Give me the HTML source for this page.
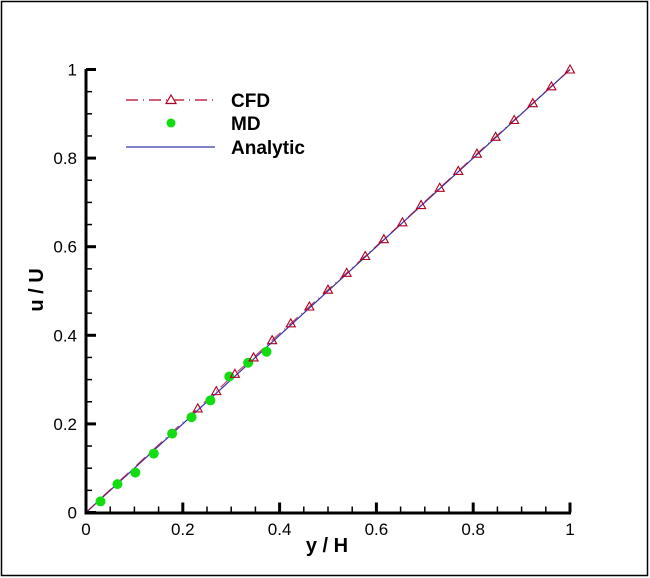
<!DOCTYPE html>
<html><head><meta charset="utf-8">
<style>
html,body{margin:0;padding:0;background:#fff;}
svg{display:block;font-family:"Liberation Sans",Arial,sans-serif;}
</style></head>
<body>
<svg id="chart" width="650" height="578" viewBox="0 0 650 578">
<rect x="1.5" y="1.5" width="646" height="574" fill="#fff" stroke="#000" stroke-width="1.5"/>
<g id="ticks"></g>
<g id="series"></g>
<line x1="86" y1="69" x2="86" y2="513.5" stroke="#000" stroke-width="3"/>
<line x1="84.5" y1="513" x2="571" y2="513" stroke="#000" stroke-width="3"/>
<text x="327" y="552" font-size="20" font-weight="bold" text-anchor="middle">y / H</text>
<text x="0" y="0" font-size="20" font-weight="bold" text-anchor="middle" transform="translate(43,290) rotate(-90)">u / U</text>
<g>
  <g>
    <line x1="126" y1="100" x2="213" y2="100" stroke="#b00020" stroke-width="1.2" stroke-dasharray="12,5,1,5"/>
    <polygon points="171,95 166,103.5 176,103.5" fill="#fff" stroke="#b00020" stroke-width="1.2"/>
    <text x="231" y="107" font-size="19" font-weight="bold">CFD</text>
  </g>
  <g>
    <circle cx="171" cy="123" r="4.5" fill="#11dd11"/>
    <text x="231" y="130" font-size="19" font-weight="bold">MD</text>
  </g>
  <g>
    <line x1="126" y1="147" x2="215" y2="147" stroke="#3333aa" stroke-width="1.2"/>
    <text x="231" y="154" font-size="19" font-weight="bold">Analytic</text>
  </g>
</g>
</svg>
<script>
const xTicks = [0, 0.2, 0.4, 0.6, 0.8, 1];
const yTicks = [0, 0.2, 0.4, 0.6, 0.8, 1];
const xTickLabels = ["0", "0.2", "0.4", "0.6", "0.8", "1"];
const yTickLabels = ["0", "0.2", "0.4", "0.6", "0.8", "1"];
const analyticX = [0, 1];
const analyticY = [0, 1];
const cfdX = [0, 0.0385, 0.0769, 0.1154, 0.1538, 0.1923, 0.2308, 0.2692, 0.3077, 0.3462, 0.3846, 0.4231, 0.4615, 0.5, 0.5385, 0.5769, 0.6154, 0.6538, 0.6923, 0.7308, 0.7692, 0.8077, 0.8462, 0.8846, 0.9231, 0.9615, 1];
const cfdY = [0, 0.04, 0.079, 0.118, 0.157, 0.196, 0.235, 0.274, 0.313, 0.35, 0.389, 0.427, 0.465, 0.503, 0.541, 0.579, 0.617, 0.655, 0.694, 0.733, 0.771, 0.81, 0.848, 0.886, 0.924, 0.962, 1];
const cfdMarkerStart = 6;
const mdX = [0.03, 0.065, 0.102, 0.14, 0.178, 0.218, 0.257, 0.296, 0.335, 0.373];
const mdY = [0.025, 0.064, 0.09, 0.133, 0.178, 0.215, 0.253, 0.307, 0.338, 0.363];

const NS = "http://www.w3.org/2000/svg";
const X0 = 86, X1 = 570, Y0 = 512.5, Y1 = 69.5;
function sx(v){ return X0 + v * (X1 - X0); }
function sy(v){ return Y0 - v * (Y0 - Y1); }
function mk(tag, attrs, parent){
  const e = document.createElementNS(NS, tag);
  for (const k in attrs) e.setAttribute(k, attrs[k]);
  parent.appendChild(e);
  return e;
}
const tg = document.getElementById("ticks");
const sg = document.getElementById("series");

for (let i = 0; i <= 20; i++) {
  const v = i * 0.05;
  const major = i % 4 === 0;
  const len = major ? 10 : 6;
  const w = major ? 3 : 1.5;
  const tx = mk("line", {x1: sx(v), y1: Y0, x2: sx(v), y2: Y0 - len, stroke: "#000", "stroke-width": w}, tg);
  
  
  const ty = mk("line", {x1: X0, y1: sy(v), x2: X0 + len, y2: sy(v), stroke: "#000", "stroke-width": w}, tg);
  
  
}
xTicks.forEach((v, i) => {
  const t = mk("text", {x: sx(v), y: 535, "font-size": 17, "text-anchor": "middle"}, tg);
  t.textContent = xTickLabels[i];
  
  
});
yTicks.forEach((v, i) => {
  const t = mk("text", {x: 77, y: sy(v) + 6, "font-size": 17, "text-anchor": "end"}, tg);
  t.textContent = yTickLabels[i];
  
  
});

const an = mk("polyline", {points: analyticX.map((v, i) => sx(v) + "," + sy(analyticY[i])).join(" "), fill: "none", stroke: "#3333aa", "stroke-width": 1.2}, sg);



const cl = mk("polyline", {points: cfdX.map((v, i) => sx(v) + "," + sy(cfdY[i])).join(" "), fill: "none", stroke: "#b00020", "stroke-width": 1, "stroke-dasharray": "12,5,1,5", opacity: 0.8}, sg);



mdX.forEach((v, i) => {
  const c = mk("circle", {cx: sx(v), cy: sy(mdY[i]), r: 5, fill: "#11dd11"}, sg);
  
  
});

cfdX.forEach((v, i) => {
  if (i < cfdMarkerStart) return;
  const cx = sx(v), cy = sy(cfdY[i]);
  const p = mk("polygon", {points: cx + "," + (cy - 4.5) + " " + (cx - 4.5) + "," + (cy + 3.5) + " " + (cx + 4.5) + "," + (cy + 3.5), fill: "none", stroke: "#b00020", "stroke-width": 1.1}, sg);
  
  
});
</script>
</body></html>
